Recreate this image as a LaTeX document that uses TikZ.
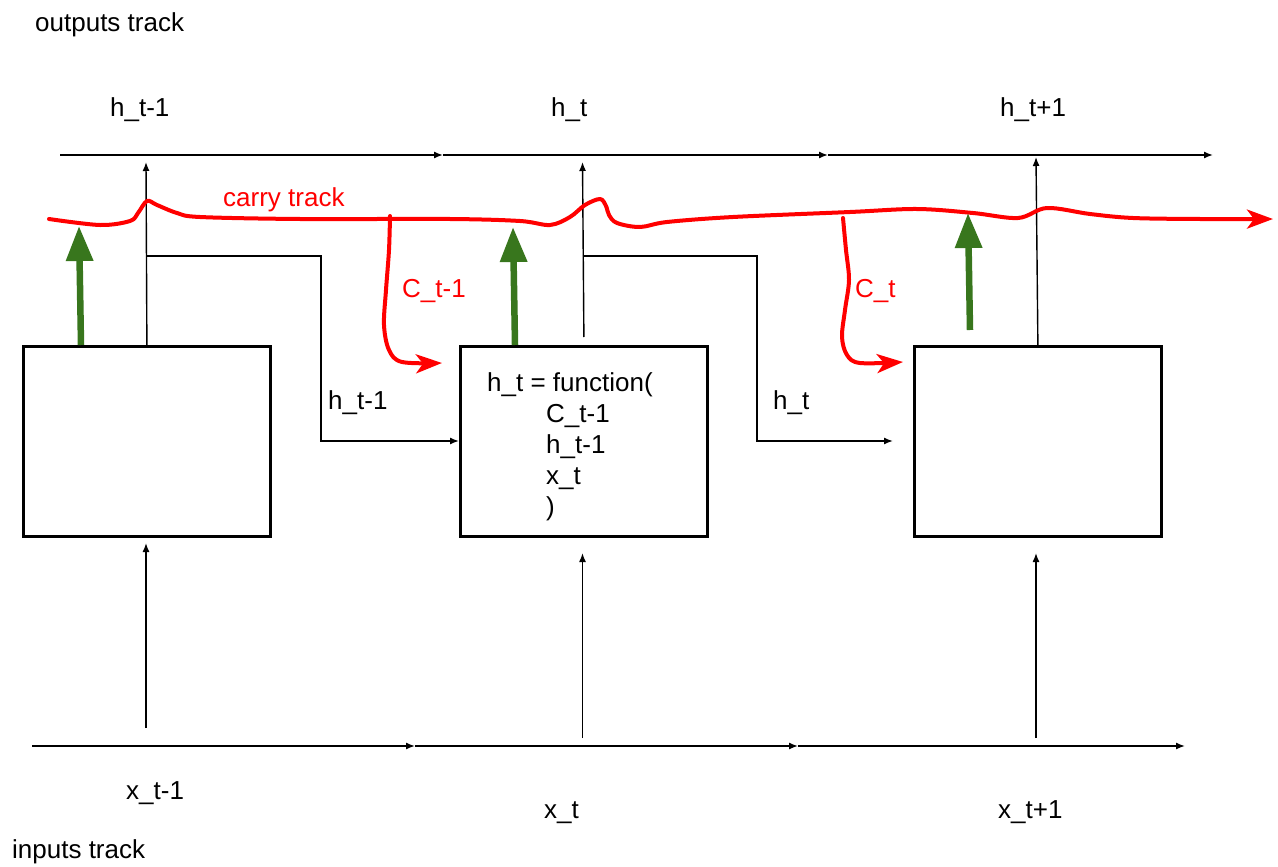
\documentclass[tikz,border=0pt]{standalone}
\usepackage{fontspec}
\setmainfont{Liberation Sans}
\usetikzlibrary{arrows.meta}
\definecolor{cred}{HTML}{FF0000}
\definecolor{cgreen}{HTML}{38761D}
\begin{document}
\begin{tikzpicture}[x=1pt,y=-1pt,
  lbl/.style={inner sep=0pt,anchor=base west,font=\fontsize{26}{31}\selectfont},
  rlbl/.style={lbl,text=cred},
  cell/.style={draw=black,line width=2.8pt,minimum width=247pt,minimum height=190pt,inner sep=0pt,anchor=north west},
  track/.style={line width=1.4pt,-{Latex[length=9pt,width=7pt]}},
  carry/.style={draw=cred,line width=4pt,line cap=round,line join=round,-{Stealth[length=26pt,width=19pt,inset=7pt]}},
  gate/.style={draw=cgreen,line width=6.5pt,-{Triangle[length=35pt,width=26pt]}}]
\useasboundingbox (0,0) rectangle (1278,867);

% boxes
\node[cell] (box1) at (22,345) {};
\node[cell] (box2) at (459,345) {};
\node[cell] (box3) at (913,345) {};

% text labels
\node[lbl] (outlbl) at (35,32) {outputs track};
\node[lbl] (inlbl) at (12,858) {inputs track};
\node[lbl] (ho1) at (110,117) {h\_t-1};
\node[lbl] (ho2) at (551,117) {h\_t};
\node[lbl] (ho3) at (1000,117) {h\_t+1};
\node[lbl] (xi1) at (126,799) {x\_t-1};
\node[lbl] (xi2) at (544,818) {x\_t};
\node[lbl] (xi3) at (998,818) {x\_t+1};
\node[lbl] (hl1) at (328,409) {h\_t-1};
\node[lbl] (hl2) at (773,409) {h\_t};
\node[lbl] (f1) at (487,391) {h\_t = function(};
\node[lbl] (f2) at (546,422) {C\_t-1};
\node[lbl] (f3) at (546,453) {h\_t-1};
\node[lbl] (f4) at (546,484) {x\_t};
\node[lbl] (f5) at (546,515) {)};
\node[rlbl] (carrylbl) at (223,206) {carry track};
\node[rlbl] (clbl1) at (402,297) {C\_t-1};
\node[rlbl] (clbl2) at (855,297) {C\_t};

% output track
\coordinate (o0) at (60,155);
\coordinate (o1) at (443,155);
\coordinate (o2) at (828,155);
\coordinate (o3) at (1213,155);
\draw[track] (o0) -- (o1);
\draw[track] (o1) -- (o2);
\draw[track] (o2) -- (o3);

% input track
\coordinate (i0) at (32,746);
\coordinate (i1) at (415,746);
\coordinate (i2) at (798,746);
\coordinate (i3) at (1185,746);
\draw[track] (i0) -- (i1);
\draw[track] (i1) -- (i2);
\draw[track] (i2) -- (i3);

% box outputs up to output track
\coordinate (ot1) at (146,162);
\coordinate (ot2) at (582.5,162);
\coordinate (ot3) at (1036,157);
\draw[track] (box1.north) -- (ot1);
\draw[track] ([yshift=8pt]box2.north) -- (ot2);
\draw[track] (box3.north) -- (ot3);

% inputs up to boxes
\coordinate (ib1) at (146,728);
\coordinate (ib2) at (582.5,738);
\coordinate (ib3) at (1036,738);
\coordinate (bt1) at (146,543);
\coordinate (bt2) at (582.5,553);
\coordinate (bt3) at (1036,553);
\draw[track] (ib1) -- (bt1);
\draw[track] (ib2) -- (bt2);
\draw[track] (ib3) -- (bt3);

% recurrent elbows
\coordinate (e1a) at (146,256);
\coordinate (e1b) at (321,256);
\coordinate (e1c) at (321,441);
\coordinate (e2a) at (582.5,256);
\coordinate (e2b) at (757,256);
\coordinate (e2c) at (757,441);
\coordinate (e2d) at (893,441);
\draw[track] (e1a) -- (e1b) -- (e1c) -- (box2.west |- e1c);
\draw[track] (e2a) -- (e2b) -- (e2c) -- (e2d);

% carry track
\draw[carry] plot[smooth,tension=0.55] coordinates {
  (49,219) (100,225) (130,221) (138,213) (147,201) (157,205) (177,213) (200,217)
  (300,219) (450,219) (520,221) (550,225) (570,217) (585,205) (600,199) (606,206) (609,215)
  (617,223) (640,227) (667,222) (733,217) (850,212) (917,209) (973,213)
  (1018,218) (1047,208) (1090,214) (1133,218) (1200,219) (1273,219)};

% carry branches
\draw[carry] plot[smooth,tension=0.55] coordinates {
  (390,216) (389,250) (386,290) (384,325) (389,350) (402,362) (442,363)};
\draw[carry] plot[smooth,tension=0.55] coordinates {
  (843,218) (846,250) (849,280) (845,310) (842,337) (847,355) (860,363) (903,362)};

% green gates
\coordinate (g1a) at (81,345);
\coordinate (g1b) at (79,226);
\coordinate (g2a) at (515,345);
\coordinate (g2b) at (513,227);
\coordinate (g3a) at (970,330);
\coordinate (g3b) at (968,213);
\draw[gate] (g1a) -- (g1b);
\draw[gate] (g2a) -- (g2b);
\draw[gate] (g3a) -- (g3b);
\end{tikzpicture}
\end{document}
